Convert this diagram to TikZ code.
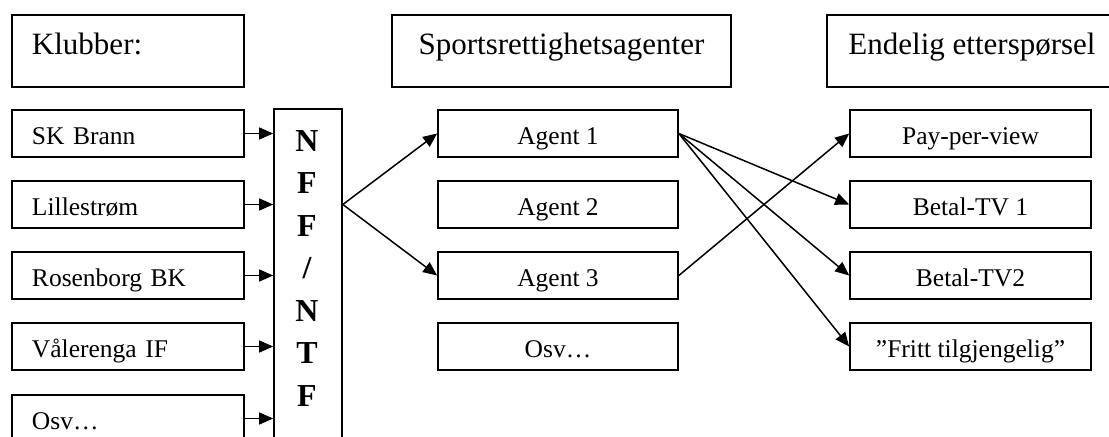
\documentclass[tikz,border=0pt]{standalone}
\usepackage{fontspec}
\setmainfont{Liberation Serif}
\usetikzlibrary{arrows.meta}
\begin{document}
\begin{tikzpicture}[x=1bp,y=-1bp,
  box/.style={draw,line width=1.7bp,inner ysep=0pt,inner xsep=0pt},
  hdr/.style={box,font=\fontsize{31bp}{36bp}\selectfont,minimum height=72bp,text height=40bp,text depth=32bp},
  lbl/.style={box,font=\fontsize{25.5bp}{30bp}\selectfont,minimum height=47bp,text height=35bp,text depth=12bp},
  club/.style={lbl,text width=192bp,align=left,inner xsep=20bp},
  agent/.style={lbl,minimum width=240bp},
  dem/.style={lbl,minimum width=241bp},
  arr/.style={line width=1.5bp,-{Triangle[length=14bp,width=12bp]}}
]
\useasboundingbox (0,0) rectangle (1109,437);
\clip (0,0) rectangle (1109,437);
% headers
\node[hdr,text width=192bp,align=left,inner xsep=20bp] (klubber) at (128,51) {Klubber:};
\node[hdr,minimum width=339bp] (sra) at (561.5,51) {Sportsrettighetsagenter};
\node[hdr,minimum width=290bp] (endelig) at (972,51) {Endelig etterspørsel};
% clubs
\node[club] (sk) at (128,133.5) {SK Brann};
\node[club] (lille) at (128,204.5) {Lillestrøm};
\node[club] (rbk) at (128,275.5) {Rosenborg BK};
\node[club] (vif) at (128,346.5) {Vålerenga IF};
\node[club] (cosv) at (128,418.5) {Osv…};
% NFF/NTF
\node[box,minimum width=68bp,minimum height=351bp] (nff) at (308,284.5) {};
\node[anchor=north,inner sep=0pt,align=center,font=\bfseries\fontsize{32bp}{42.5bp}\selectfont] (nfftxt) at (307,130) {N\\F\\F\\/\\N\\T\\F};
% agents
\node[agent] (a1) at (558,133.5) {Agent 1};
\node[agent] (a2) at (558,204.5) {Agent 2};
\node[agent] (a3) at (558,275.5) {Agent 3};
\node[agent] (aosv) at (558,346.5) {Osv…};
% demand
\node[dem] (ppv) at (970.5,133.5) {Pay-per-view};
\node[dem] (b1) at (970.5,204.5) {Betal-TV 1};
\node[dem] (b2) at (970.5,275.5) {Betal-TV2};
\node[dem] (fri) at (970.5,346.5) {”Fritt tilgjengelig”};
% connectors
\foreach \c in {sk,lille,rbk,vif,cosv}
  \draw[arr] (\c.east) -- (\c.east -| nff.west);
\coordinate (fan) at (lille.east -| nff.east);
\draw[arr] (fan) -- (a1.west);
\draw[arr] (fan) -- (a3.west);
\draw[arr] (a1.east) -- (b1.west);
\draw[arr] (a1.east) -- (b2.west);
\draw[arr] (a1.east) -- (fri.west);
\draw[arr] (a3.east) -- (ppv.west);
\end{tikzpicture}
\end{document}
